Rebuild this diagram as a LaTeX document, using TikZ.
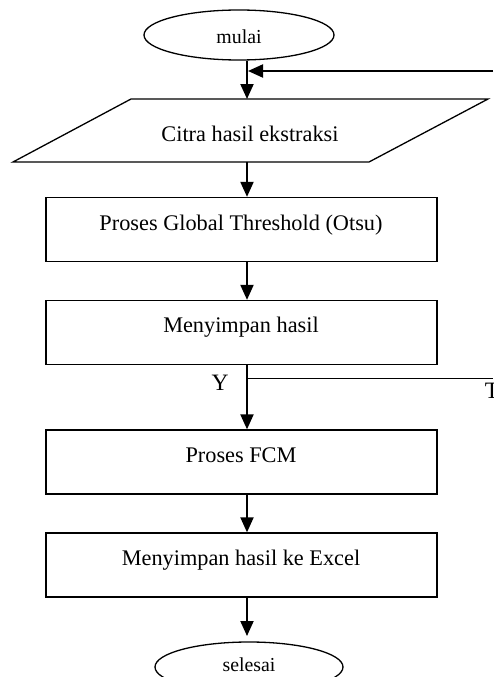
\documentclass[tikz,border=0pt]{standalone}
\usepackage{fontspec}
\setmainfont{Liberation Serif}
\usetikzlibrary{arrows.meta,shapes.geometric}
\begin{document}
\begin{tikzpicture}[x=1pt,y=-1pt,
  box/.style={draw, line width=1.3pt, minimum width=391pt, minimum height=64pt, inner sep=0pt},
  term/.style={draw, ellipse, line width=1.3pt, minimum width=190pt, minimum height=50pt, inner sep=0pt},
  lbl/.style={anchor=base, inner sep=0pt, font=\fontsize{22.3}{26}\selectfont},
  termtext/.style={anchor=base, inner sep=0pt, font=\fontsize{19.8}{24}\selectfont},
  yt/.style={anchor=base, inner sep=0pt, font=\fontsize{23.5}{28}\selectfont},
  arr/.style={line width=2pt, -{Triangle[length=15pt,width=13pt]}},
  thinline/.style={line width=1pt}]
\clip (0,0) rectangle (493,677);
\fill[white] (0,0) rectangle (493,677);

% start terminal
\node[term] (start) at (239,35) {};
\node[termtext] (startT) at (239,43.3) {mulai};

% input parallelogram
\draw[line width=1.3pt] (131,99) -- (488,99) -- (369,162) -- (13,162) -- cycle;
\node[lbl] (inT) at (250,141.7) {Citra hasil ekstraksi};
\coordinate (inTop) at (247,99);
\coordinate (inBot) at (247,162);

% process boxes
\node[box] (b1) at (241.5,229.5) {};
\node[lbl] (b1T) at (241,230.5) {Proses Global Threshold (Otsu)};
\node[box] (b2) at (241.5,332.5) {};
\node[lbl] (b2T) at (241,332.5) {Menyimpan hasil};
\node[box] (b3) at (241.5,462) {};
\node[lbl] (b3T) at (241,462) {Proses FCM};
\node[box] (b4) at (241.5,565) {};
\node[lbl] (b4T) at (241,565) {Menyimpan hasil ke Excel};

% end terminal
\node[term, minimum width=188pt] (stop) at (249,667) {};
\node[termtext] (stopT) at (249,671) {selesai};

% feedback entry and branch
\coordinate (fbIn) at (493,71);
\coordinate (fbJoin) at (248,71);
\coordinate (brL) at (247,378);
\coordinate (brR) at (493,378);
\coordinate (stopTop) at (247,636);

\draw[arr] (start.south -| inTop) -- (inTop);
\draw[arr] (fbIn) -- (fbJoin);
\draw[arr] (inBot) -- (b1.north -| inBot);
\draw[arr] (b1.south -| inBot) -- (b2.north -| inBot);
\draw[arr] (b2.south -| inBot) -- (b3.north -| inBot);
\draw[thinline] (brL) -- (brR);
\draw[arr] (b3.south -| inBot) -- (b4.north -| inBot);
\draw[arr] (b4.south -| inBot) -- (stopTop);

\node[yt] (yes) at (220,390) {Y};
\node[yt] (no) at (492,398) {T};
\end{tikzpicture}
\end{document}
